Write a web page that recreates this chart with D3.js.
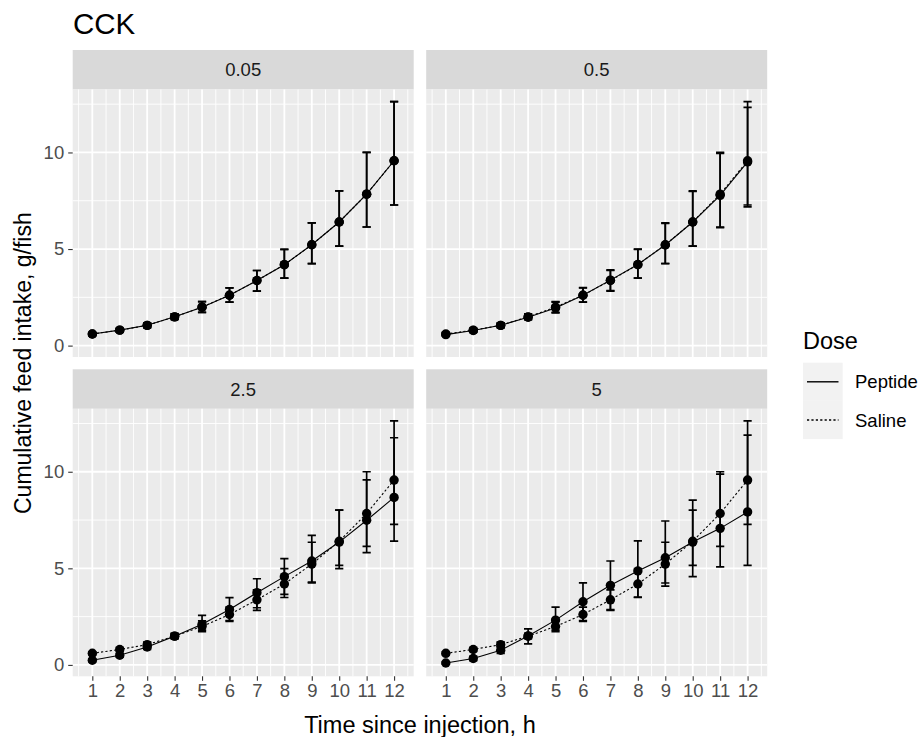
<!DOCTYPE html>
<html lang="en">
<head>
<meta charset="UTF-8">
<title>CCK</title>
<script src="https://cdn.jsdelivr.net/npm/d3@7"></script>
<style>
  body { margin: 0; background: #fff; }
  svg text { font-family: "Liberation Sans", Arial, sans-serif; }
</style>
</head>
<body>
<div id="chart"></div>
<script>
// hours after injection
var hours = [1, 2, 3, 4, 5, 6, 7, 8, 9, 10, 11, 12];
var doses = ['0.05', '0.5', '2.5', '5'];
var seriesNames = ['Peptide', 'Saline'];

// saline (same control in every panel)
var salineMean  = [0.60, 0.80, 1.05, 1.49, 1.99, 2.61, 3.37, 4.19, 5.22, 6.40, 7.84, 9.57];
var salineLower = [0.52, 0.70, 0.93, 1.36, 1.72, 2.25, 2.82, 3.49, 4.24, 5.15, 6.14, 7.28];
var salineUpper = [0.68, 0.90, 1.18, 1.64, 2.28, 2.99, 3.89, 4.98, 6.35, 8.01, 10.00, 12.63];

// peptide, one set per dose
var pep005Mean  = [0.60, 0.80, 1.05, 1.49, 1.99, 2.61, 3.37, 4.19, 5.22, 6.40, 7.84, 9.57];
var pep005Lower = [0.52, 0.70, 0.93, 1.36, 1.72, 2.25, 2.82, 3.49, 4.24, 5.15, 6.14, 7.28];
var pep005Upper = [0.68, 0.90, 1.18, 1.64, 2.28, 2.99, 3.89, 4.98, 6.35, 8.01, 10.00, 12.63];

var pep05Mean  = [0.57, 0.78, 1.05, 1.47, 1.95, 2.61, 3.39, 4.20, 5.21, 6.40, 7.78, 9.51];
var pep05Lower = [0.50, 0.68, 0.93, 1.34, 1.70, 2.25, 2.85, 3.50, 4.25, 5.15, 6.11, 7.18];
var pep05Upper = [0.65, 0.88, 1.17, 1.62, 2.25, 3.00, 3.92, 5.00, 6.33, 7.98, 9.95, 12.33];

var pep25Mean  = [0.24, 0.50, 0.93, 1.49, 2.10, 2.87, 3.74, 4.57, 5.38, 6.36, 7.49, 8.67];
var pep25Lower = [0.16, 0.40, 0.80, 1.36, 1.80, 2.30, 2.96, 3.65, 4.29, 4.98, 5.81, 6.41];
var pep25Upper = [0.32, 0.60, 1.06, 1.62, 2.56, 3.48, 4.46, 5.50, 6.71, 8.02, 9.58, 11.76];

var pep5Mean  = [0.10, 0.33, 0.76, 1.50, 2.32, 3.27, 4.12, 4.86, 5.55, 6.36, 7.07, 7.92];
var pep5Lower = [0.04, 0.22, 0.60, 1.09, 1.80, 2.30, 2.86, 3.51, 4.08, 4.57, 5.08, 5.15];
var pep5Upper = [0.16, 0.44, 0.92, 1.87, 2.99, 4.25, 5.38, 6.42, 7.45, 8.53, 9.88, 11.90];

var yTicks = [0, 5, 10];

function rows(mean, lower, upper) {
  return hours.map((hr, i) => ({ h: hr, m: mean[i], lo: lower[i], hi: upper[i] }));
}
var saline = rows(salineMean, salineLower, salineUpper);
var peptide = {
  '0.05': rows(pep005Mean, pep005Lower, pep005Upper),
  '0.5': rows(pep05Mean, pep05Lower, pep05Upper),
  '2.5': rows(pep25Mean, pep25Lower, pep25Upper),
  '5': rows(pep5Mean, pep5Lower, pep5Upper)
};

var width = 922, height = 737;
var panelW = 341, panelH = 267.5, stripH = 39.5;
var plotLeft = 72.7, plotTop = 50, gapX = 12.5, gapY = 12.3;
var barW = 0.3; // errorbar cap width in hours

var svg = d3.select('#chart').append('svg')
  .attr('width', width)
  .attr('height', height);

// shared scales, ggplot style 5% expansion
var xMin = d3.min(hours) - barW / 2, xMax = d3.max(hours) + barW / 2;
var xPad = (xMax - xMin) * 0.05;
var xScale = d3.scaleLinear()
  .domain([xMin - xPad, xMax + xPad])
  .range([0, panelW]);

var allSeries = [saline].concat(doses.map(d => peptide[d]));
var allLo = d3.min(allSeries, s => d3.min(s, r => r.lo));
var allHi = d3.max(allSeries, s => d3.max(s, r => r.hi));
var yPad = (allHi - allLo) * 0.05;
var yScale = d3.scaleLinear()
  .domain([allLo - yPad, allHi + yPad])
  .range([panelH, 0]);

var line = d3.line().x(d => xScale(d.h)).y(d => yScale(d.m));
var dash = { Peptide: null, Saline: '2.2,2.2' };

doses.forEach(function (dose, k) {
  var col = k % 2, row = Math.floor(k / 2);
  var px = plotLeft + col * (panelW + gapX);
  var py = plotTop + stripH + row * (stripH + panelH + gapY);

  // strip
  svg.append('rect')
    .attr('x', px).attr('y', py - stripH)
    .attr('width', panelW).attr('height', stripH)
    .attr('fill', '#d9d9d9');
  svg.append('text')
    .attr('x', px + panelW / 2).attr('y', py - stripH / 2 + 6.5)
    .attr('text-anchor', 'middle')
    .attr('font-size', '18.5px')
    .attr('fill', '#1a1a1a')
    .text(dose);

  var g = svg.append('g').attr('transform', 'translate(' + px + ',' + py + ')');
  g.append('rect').attr('width', panelW).attr('height', panelH).attr('fill', '#ebebeb');

  // minor grid
  var xMinor = d3.range(0.5, 13, 1).filter(v => xScale(v) > 0 && xScale(v) < panelW);
  var yMinor = [2.5, 7.5, 12.5];
  g.selectAll('.vminor').data(xMinor).enter().append('line')
    .attr('x1', d => xScale(d)).attr('x2', d => xScale(d))
    .attr('y1', 0).attr('y2', panelH)
    .attr('stroke', '#fff').attr('stroke-width', 0.9);
  g.selectAll('.hminor').data(yMinor).enter().append('line')
    .attr('y1', d => yScale(d)).attr('y2', d => yScale(d))
    .attr('x1', 0).attr('x2', panelW)
    .attr('stroke', '#fff').attr('stroke-width', 0.9);
  // major grid
  g.selectAll('.vmajor').data(hours).enter().append('line')
    .attr('x1', d => xScale(d)).attr('x2', d => xScale(d))
    .attr('y1', 0).attr('y2', panelH)
    .attr('stroke', '#fff').attr('stroke-width', 1.8);
  g.selectAll('.hmajor').data(yTicks).enter().append('line')
    .attr('y1', d => yScale(d)).attr('y2', d => yScale(d))
    .attr('x1', 0).attr('x2', panelW)
    .attr('stroke', '#fff').attr('stroke-width', 1.8);

  var groups = [{ name: 'Peptide', data: peptide[dose] }, { name: 'Saline', data: saline }];

  groups.forEach(function (s) {
    g.append('path')
      .datum(s.data)
      .attr('d', line)
      .attr('fill', 'none')
      .attr('stroke', '#000')
      .attr('stroke-width', 1.1)
      .attr('stroke-dasharray', dash[s.name]);
  });

  groups.forEach(function (s) {
    var eb = g.append('g');
    eb.selectAll('path').data(s.data).enter().append('path')
      .attr('d', d => {
        var x0 = xScale(d.h - barW / 2), x1 = xScale(d.h + barW / 2), xc = xScale(d.h);
        var y0 = yScale(d.lo), y1 = yScale(d.hi);
        return 'M' + x0 + ',' + y1 + 'H' + x1 + 'M' + xc + ',' + y1 + 'V' + y0 + 'M' + x0 + ',' + y0 + 'H' + x1;
      })
      .attr('fill', 'none')
      .attr('stroke', '#000')
      .attr('stroke-width', 1.7);
  });

  groups.forEach(function (s) {
    g.selectAll(null).data(s.data).enter().append('circle')
      .attr('cx', d => xScale(d.h))
      .attr('cy', d => yScale(d.m))
      .attr('r', 4.7)
      .attr('fill', '#000');
  });

  // y axis on left column
  if (col === 0) {
    var yAxis = d3.axisLeft(yScale).tickValues(yTicks).tickSize(4.5).tickPadding(4);
    var ya = g.append('g').call(yAxis);
    ya.select('.domain').remove();
    ya.selectAll('line').attr('stroke', '#333').attr('stroke-width', 1.1);
    ya.selectAll('text').attr('fill', '#4d4d4d').attr('font-size', '18.5px')
      .attr('font-family', '"Liberation Sans", Arial, sans-serif');
  }
  // x axis on bottom row
  if (row === 1) {
    var xAxis = d3.axisBottom(xScale).tickValues(hours).tickSize(4.5).tickPadding(3);
    var xa = g.append('g').attr('transform', 'translate(0,' + panelH + ')').call(xAxis);
    xa.select('.domain').remove();
    xa.selectAll('line').attr('stroke', '#333').attr('stroke-width', 1.1);
    xa.selectAll('text').attr('fill', '#4d4d4d').attr('font-size', '18.5px')
      .attr('font-family', '"Liberation Sans", Arial, sans-serif');
  }
});

// title and axis titles
svg.append('text')
  .attr('x', 73).attr('y', 34)
  .attr('font-size', '29.5px').attr('fill', '#000')
  .text('CCK');

var plotRight = plotLeft + 2 * panelW + gapX;
var plotBottom = plotTop + 2 * (stripH + panelH) + gapY;
svg.append('text')
  .attr('x', (plotLeft + plotRight) / 2).attr('y', 733)
  .attr('text-anchor', 'middle')
  .attr('font-size', '23.5px').attr('fill', '#000')
  .text('Time since injection, h');

svg.append('text')
  .attr('transform', 'translate(31,' + (plotTop + plotBottom) / 2 + ') rotate(-90)')
  .attr('text-anchor', 'middle')
  .attr('font-size', '23px').attr('fill', '#000')
  .text('Cumulative feed intake, g/fish');

// legend
var lg = svg.append('g').attr('transform', 'translate(803,333)');
lg.append('text').attr('x', 0).attr('y', 15.5)
  .attr('font-size', '23.5px').attr('fill', '#000')
  .text('Dose');
var keyH = 38.2;
seriesNames.forEach(function (name, i) {
  var ky = 29.7 + i * keyH;
  lg.append('rect')
    .attr('x', 0).attr('y', ky)
    .attr('width', 39.7).attr('height', keyH)
    .attr('fill', '#f2f2f2');
  lg.append('line')
    .attr('x1', 4).attr('x2', 35.5)
    .attr('y1', ky + keyH / 2).attr('y2', ky + keyH / 2)
    .attr('stroke', '#000').attr('stroke-width', 1.4)
    .attr('stroke-dasharray', dash[name]);
  lg.append('text')
    .attr('x', 52).attr('y', ky + keyH / 2 + 6.5)
    .attr('font-size', '18.5px').attr('fill', '#000')
    .text(name);
});
</script>
</body>
</html>
